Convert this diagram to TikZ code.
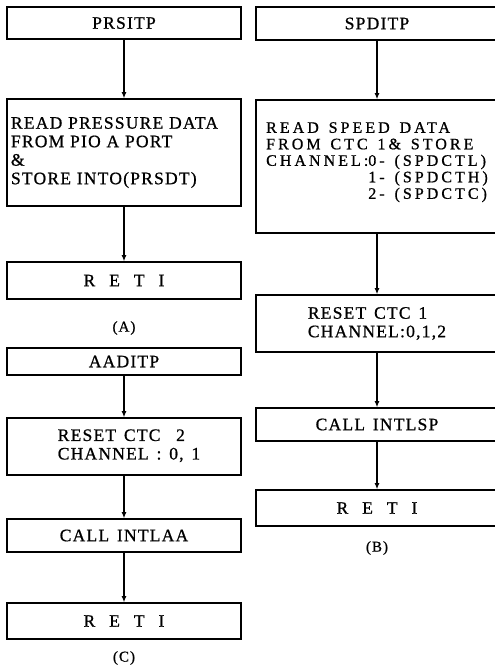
\documentclass[tikz,border=0pt]{standalone}
\usepackage{fontspec}
\setmainfont{Liberation Serif}[LetterSpace=7,FakeBold=0.8,WordSpace=1.4]
\usetikzlibrary{arrows.meta}
\newcommand{\reti}{R\hspace{14pt}E\hspace{14pt}T\hspace{14pt}I}
\tikzset{
  box/.style={draw,line width=1.6pt,inner sep=0pt,font=\fontsize{17.5}{18.5}\selectfont},
  lbox/.style={box,minimum width=234pt},
  rbox/.style={box,minimum width=242pt},
  small/.style={font=\fontsize{16}{16.5}\selectfont\addfontfeature{LetterSpace=19}},
  flow/.style={-{Latex[length=6pt,width=5pt]},line width=1.1pt},
  tag/.style={font=\fontsize{15}{16}\selectfont}
}
\begin{document}
\begin{tikzpicture}[x=1pt,y=1pt]
  \useasboundingbox (0,0) rectangle (495,-667);
  % (A)
  \node[lbox,minimum height=32pt] (PRS) at (124,-23) {PRSITP};
  \node[lbox,minimum height=107pt,text width=226pt,align=left] (RDP) at (124,-152.5)
      {READ PRESSURE DATA\\FROM PIO A PORT\\\&\\STORE INTO(PRSDT)\\[-10pt]};
  \node[lbox,minimum height=37pt] (RTA) at (124,-280.5) {\reti};
  \node[tag] (LA) at (124,-328) {(A)};
  \draw[flow] (PRS) -- (RDP);
  \draw[flow] (RDP) -- (RTA);
  % (B)
  \node[rbox,small,minimum height=133pt] (RDS) at (377,-166.5)
      {\begin{tabular}{@{}l@{}l@{}}
         \multicolumn{2}{@{}l@{}}{READ SPEED DATA}\\
         \multicolumn{2}{@{}l@{}}{FROM CTC 1\& STORE}\\
         CHANNEL:&0- (SPDCTL)\\
                 &1- (SPDCTH)\\
                 &2- (SPDCTC)\\[8pt]
       \end{tabular}};
  \node[rbox,minimum height=33pt] (SPD) at (377,-23.5) {SPDITP};
  \node[rbox,minimum height=57pt,align=left] (RS1) at (377,-323.5)
      {RESET CTC 1\\CHANNEL:0,1,2};
  \node[rbox,minimum height=33pt] (CLS) at (377,-424.5) {CALL INTLSP};
  \node[rbox,minimum height=36pt] (RTB) at (377,-508) {\reti};
  \node[tag] (LB) at (377,-548) {(B)};
  \draw[flow] (SPD) -- (RDS);
  \draw[flow] (RDS) -- (RS1);
  \draw[flow] (RS1) -- (CLS);
  \draw[flow] (CLS) -- (RTB);
  % (C)
  \node[lbox,minimum height=27pt] (AAD) at (124,-361.5) {AADITP};
  \node[lbox,minimum height=57pt] (RS2) at (124,-446.5)
      {\hspace*{10pt}\begin{tabular}{@{}l@{}}RESET CTC\ \ 2\\CHANNEL : 0, 1\end{tabular}};
  \node[lbox,minimum height=33pt] (CLA) at (124,-535.5) {CALL INTLAA};
  \node[lbox,minimum height=36pt] (RTC) at (124,-621) {\reti};
  \node[tag] (LC) at (124,-658) {(C)};
  \draw[flow] (AAD) -- (RS2);
  \draw[flow] (RS2) -- (CLA);
  \draw[flow] (CLA) -- (RTC);
\end{tikzpicture}
\end{document}
